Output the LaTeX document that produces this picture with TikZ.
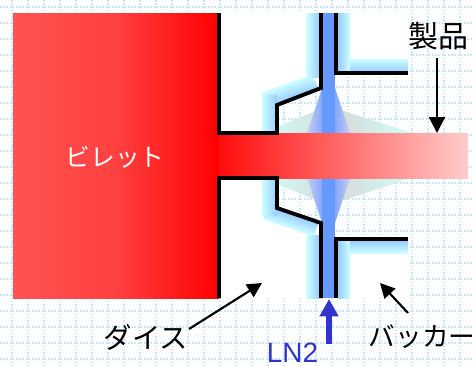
\documentclass[tikz,border=0pt]{standalone}
\usepackage{fontspec}
\usetikzlibrary{arrows.meta,calc}
\newfontfamily\jpfont{Noto Sans CJK JP}
\newfontfamily\latfont{Liberation Sans}
\definecolor{gridc}{HTML}{C5E9FB}
\definecolor{icepale}{HTML}{CCFFFF}
\definecolor{icedeep}{HTML}{99CCFF}
\definecolor{lnblue}{HTML}{6699FF}
\definecolor{lnedge}{HTML}{C8CCF2}
\definecolor{fangrey}{HTML}{D9D9D9}
\definecolor{fanedge}{HTML}{CCFFF8}
\definecolor{lnlabel}{HTML}{3333CC}
\definecolor{billetleft}{HTML}{FF5252}
\definecolor{billetmid}{HTML}{FF4040}
\tikzset{
  gridline/.style={gridc,line width=1.5pt,dash pattern=on 1.2pt off 1.2pt},
  wall/.style={black,line width=2.9pt,line join=miter},
  pointer/.style={black,line width=1.6pt,-{Triangle[length=12pt,width=12pt]}},
  thinpointer/.style={black,line width=1.6pt,-{Triangle[length=11pt,width=11pt]}},
  label/.style={inner sep=0pt,font=\jpfont\fontsize{21pt}{21pt}\selectfont,black},
  fan/.style={left color=fanedge,right color=fanedge,middle color=fangrey},
  spray/.style={left color=lnedge,right color=lnedge,middle color=lnblue},
}
\begin{document}
\begin{tikzpicture}[x=0.75pt,y=-0.75pt]
\useasboundingbox (0,0) rectangle (474,365);
\fill[white] (0,0) rectangle (474,365);
% grid
\foreach \gx in {12,28,...,460} \draw[gridline] (\gx,0) -- (\gx,365);
\foreach \gy in {7,23,...,359} \draw[gridline] (0,\gy) -- (474,\gy);
% white regions that hide the grid
\fill[white] (219,13) -- (321,13) -- (321,88) -- (277,105) -- (277,133) -- (219,133) -- cycle;
\fill[white] (336,13) rectangle (410,73);
\fill[white] (219,178) -- (277,178) -- (277,208) -- (321,223) -- (321,298) -- (219,298) -- cycle;
\fill[white] (336,239) rectangle (410,298);
% billet
\shade[left color=billetleft,right color=red,middle color=billetmid] (13,13) rectangle (219,298);
% grey fans
\shade[fan] (262,133) -- (316,111) -- (344,111) -- (412,133) -- cycle;
\shade[fan] (262,178) -- (316,200) -- (344,200) -- (412,178) -- cycle;
% LN2 spray
\shade[spray] (322,88) -- (335,88) -- (350,133) -- (307,133) -- cycle;
\shade[spray] (322,223) -- (335,223) -- (350,178) -- (307,178) -- cycle;
\fill[lnblue] (322,13) rectangle (335,298);
% cold shading of the tooling
\begin{scope}
\clip (262,60) rectangle (319,110);
\begin{scope}[transform canvas={shift={(277,105)},rotate=19.5}]
\shade[top color=icepale,bottom color=icedeep] (-18,-17) rectangle (44,-1);
\end{scope}
\end{scope}
\begin{scope}
\clip (264,200) rectangle (319,245);
\begin{scope}[transform canvas={shift={(277,208)},rotate=-19}]
\shade[top color=icedeep,bottom color=icepale] (-16,1) rectangle (44,15);
\end{scope}
\end{scope}
\shade[left color=icepale,right color=icedeep] (306.5,13) rectangle (319,77);
\shade[left color=icepale,right color=icedeep] (262,95) rectangle (277,133);
\shade[left color=icepale,right color=icedeep] (306.5,235) rectangle (319,298);
\shade[left color=icepale,right color=icedeep] (262,178) rectangle (277,215);
\shade[left color=icedeep,right color=icepale] (338,13) rectangle (350,71);
\shade[top color=icepale,bottom color=icedeep] (350,59) rectangle (408,72);
\shade[left color=icedeep,right color=icepale] (338,241) rectangle (350,298);
\shade[top color=icedeep,bottom color=icepale] (350,241) rectangle (408,253);
% product bar
\shade[left color=red!95!white,right color=red!20!white] (219,133) rectangle (468,178);
% die and backer walls
\draw[wall] (219,13) -- (219,133) -- (277,133) -- (277,105) -- (321,88) -- (321,13);
\draw[wall] (219,298) -- (219,178) -- (277,178) -- (277,208) -- (321,223) -- (321,298);
\draw[wall] (336,13) -- (336,73) -- (408,73);
\draw[wall] (336,298) -- (336,239) -- (408,239);
% labels
\node[label,font=\jpfont\fontsize{18.6pt}{18.6pt}\selectfont,white] (billet) at (115,157) {ビレット};
\node[label,font=\jpfont\fontsize{22.5pt}{22.5pt}\selectfont] (product) at (438,36) {製品};
\node[label,font=\jpfont\fontsize{21.3pt}{21.3pt}\selectfont] (die) at (146,337) {ダイス};
\node[label,font=\jpfont\fontsize{20pt}{20pt}\selectfont] (backer) at (422,337) {バッカー};
\node[label,font=\latfont\fontsize{21pt}{21pt}\selectfont,text=lnlabel,text depth=0pt] (ln) at (292.5,353) {LN2};
% pointers
\coordinate (prodtip) at (437,133);
\coordinate (prodtail) at (437,58);
\coordinate (dietip) at (262,283);
\coordinate (dietail) at (189,329);
\coordinate (backtip) at (380,283);
\coordinate (backtail) at (408,313);
\coordinate (lntip) at (329,299);
\coordinate (lntail) at (329,344);
\draw[pointer] (prodtail) -- (prodtip);
\draw[thinpointer] (dietail) -- (dietip);
\draw[thinpointer] (backtail) -- (backtip);
\draw[lnlabel,line width=3.8pt,-{Triangle[length=13pt,width=13.5pt]}] (lntail) -- (lntip);
\end{tikzpicture}
\end{document}
